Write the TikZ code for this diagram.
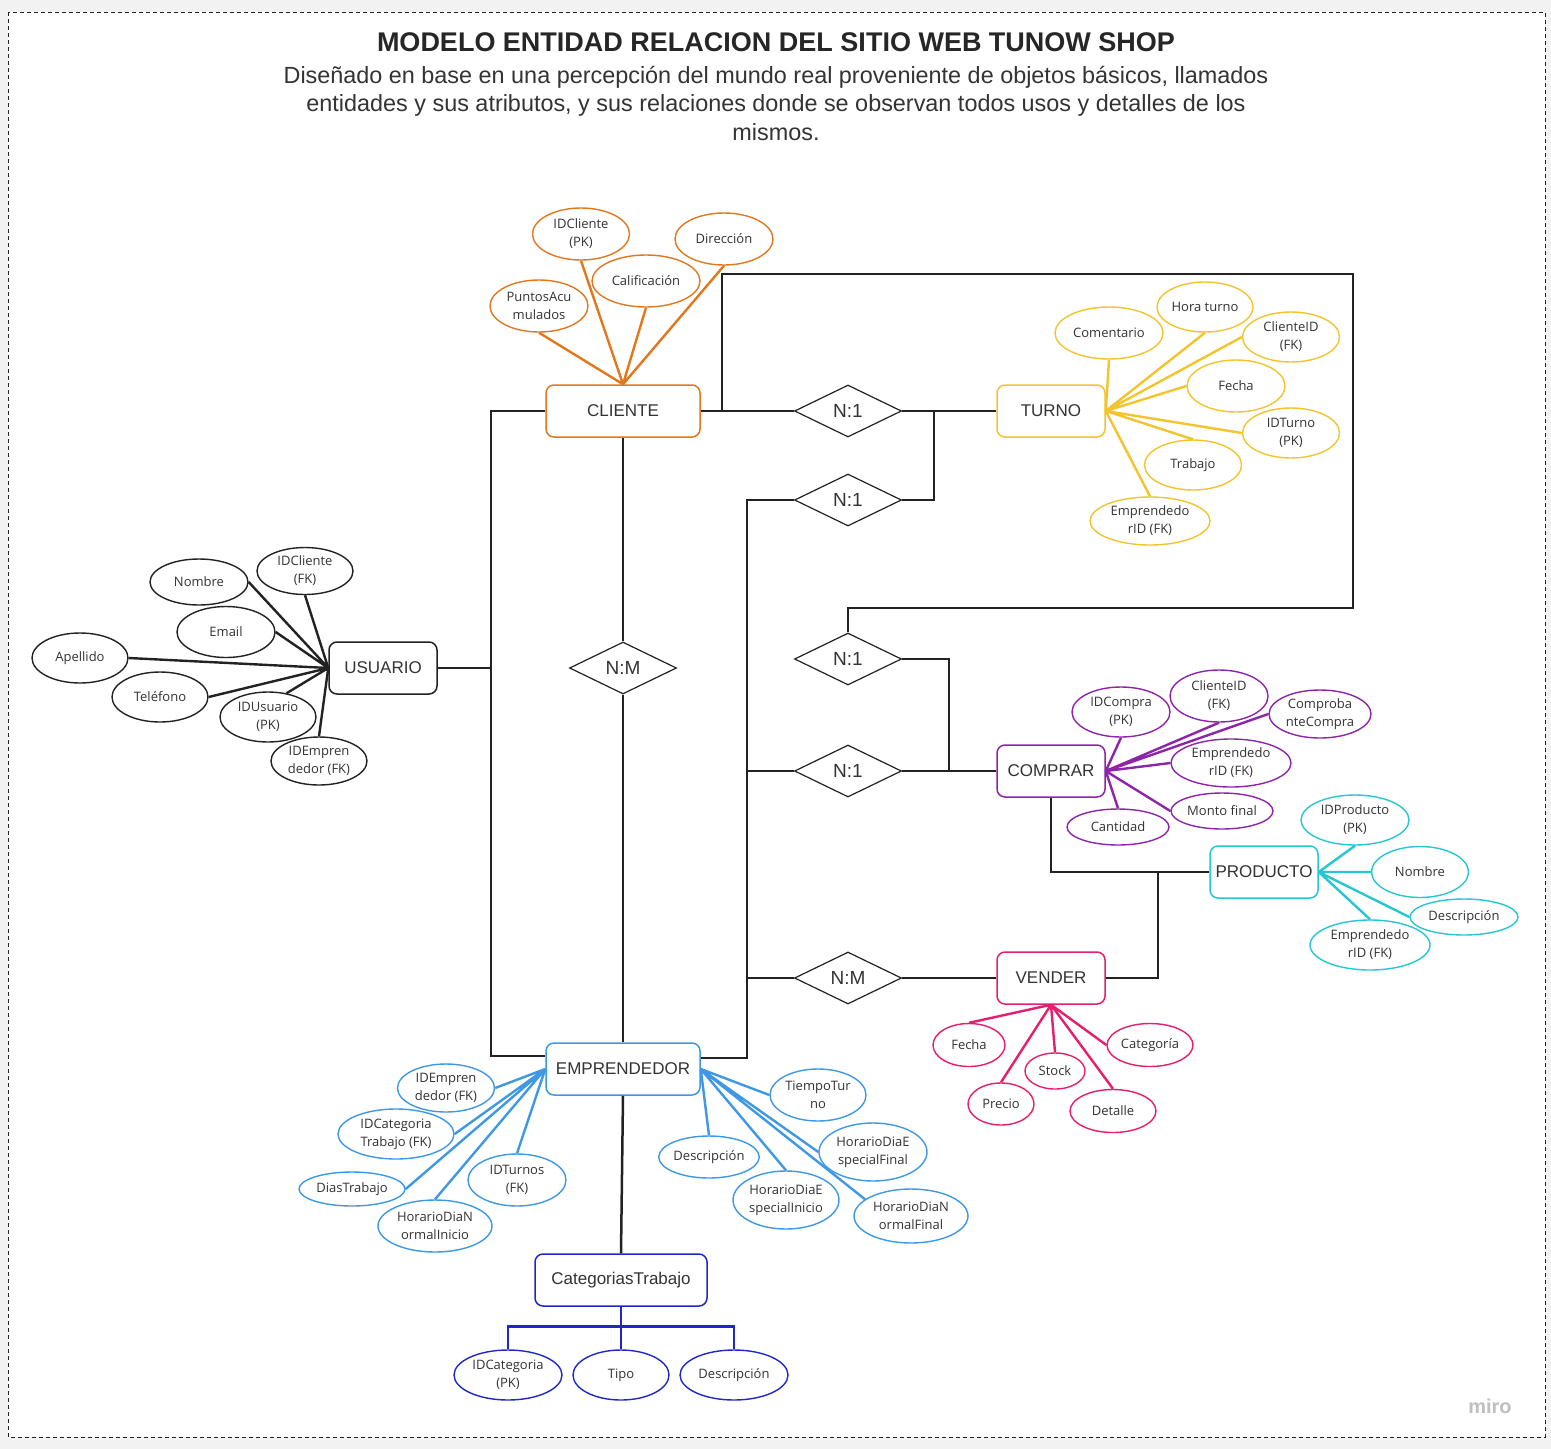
\documentclass[tikz,border=0pt]{standalone}
\usepackage{fontspec}
\setmainfont{Liberation Sans}
\newfontfamily\attrfamily{Open Sans}
\usepackage{tikz}
\usetikzlibrary{shapes.geometric}
\definecolor{BgGray}{RGB}{242,242,242}
\definecolor{InkGray}{RGB}{51,51,51}
\definecolor{LineBlack}{RGB}{34,34,34}
\definecolor{CliOrange}{RGB}{226,120,30}
\definecolor{TurYellow}{RGB}{242,196,46}
\definecolor{CmpPurple}{RGB}{142,36,170}
\definecolor{ProCyan}{RGB}{38,198,210}
\definecolor{VenPink}{RGB}{230,30,110}
\definecolor{EmpBlue}{RGB}{62,152,228}
\definecolor{CatBlue}{RGB}{30,40,200}

\begin{document}
\begin{tikzpicture}[x=1pt, y=-1pt,
    entity/.style={draw=#1, rounded corners=8pt, fill=white, text=InkGray, line width=1.5pt, minimum width=108pt, minimum height=52pt, inner sep=0pt, font=\fontsize{17}{20}\selectfont},
    rel/.style={diamond, draw=LineBlack, fill=white, aspect=2, inner sep=0pt, minimum width=107pt, minimum height=52pt, line width=1.2pt, text=InkGray, font=\fontsize{19}{20}\selectfont},
    attr/.style={ellipse, draw=#1, fill=white, text=InkGray, line width=1.4pt, inner sep=0pt, align=center, font=\attrfamily\fontsize{13}{18}\selectfont},
    sz/.style 2 args={minimum width=#1pt, minimum height=#2pt},
    conn/.style={draw=LineBlack, line width=2.5pt},
    spoke/.style={draw=#1, line width=2.4pt}
]
    % page and frame
    \fill[BgGray] (0,0) rectangle (1551,1449);
    \draw[fill=white, draw=LineBlack, line width=1pt, dash pattern=on 4pt off 3pt] (8,12) rectangle (1545,1437);
    \node[text=black!85, font=\bfseries\fontsize{27}{30}\selectfont] (title) at (776,42) {MODELO ENTIDAD RELACION DEL SITIO WEB TUNOW SHOP};
    \node[text=InkGray, align=center, font=\fontsize{23.4}{28.5}\selectfont] (subtitle) at (776,103)
        {Diseñado en base en una percepción del mundo real proveniente de objetos básicos, llamados\\
         entidades y sus atributos, y sus relaciones donde se observan todos usos y detalles de los\\
         mismos.};
    \node[text=black!25, font=\bfseries\fontsize{20}{20}\selectfont] (miro) at (1490,1406) {miro};

    % entities
    \node[entity=CliOrange, minimum width=154pt] (cli) at (623,411) {CLIENTE};
    \node[entity=TurYellow] (tur) at (1051,411) {TURNO};
    \node[entity=LineBlack] (usu) at (383,668) {USUARIO};
    \node[entity=CmpPurple] (cmp) at (1051,771) {COMPRAR};
    \node[entity=ProCyan] (pro) at (1264,872) {PRODUCTO};
    \node[entity=VenPink] (ven) at (1051,978) {VENDER};
    \node[entity=EmpBlue, minimum width=154pt] (emp) at (623,1069) {EMPRENDEDOR};
    \node[entity=CatBlue, minimum width=172pt] (cat) at (621,1280) {CategoriasTrabajo};

    % relations
    \node[rel] (r1) at (848,411) {N:1};
    \node[rel] (r2) at (848,500) {N:1};
    \node[rel] (r0) at (623,668) {N:M};
    \node[rel] (r3) at (848,659) {N:1};
    \node[rel] (r4) at (848,771) {N:1};
    \node[rel] (r5) at (848,978) {N:M};

    % connectors
    \draw[conn] (cli.east) -- (r1.west) (r1.east) -- (tur.west);
    \draw[conn] (r3.north) |- (1353,608) |- (722,274) |- (cli.east);
    \draw[conn] (r2.east) -| (934,411);
    \draw[conn] (r2.west) -| (747,1058) -- ([yshift=11pt]emp.east);
    \draw[conn] (r4.west) -- ++(-48,0) (r5.west) -- ++(-48,0);
    \draw[conn] (r4.east) -- (cmp.west) (r3.east) -| (949,771);
    \draw[conn] (r5.east) -- (ven.west) (ven.east) -| (1158,872);
    \draw[conn] (cmp.south) |- (pro.west);
    \draw[conn] (cli.west) -| (491,668) |- ([yshift=13pt]emp.west);
    \draw[conn] (usu.east) -- (491,668);
    \draw[conn] (cli.south) -- (r0.north) (r0.south) -- (emp.north);
    \draw[conn] (emp.south) -- (cat.north);

    % CLIENTE attributes
    \node[attr=CliOrange, sz={97}{52}] (cid) at (581,234) {IDCliente\\(PK)};
    \node[attr=CliOrange, sz={98}{52}] (dir) at (724,239) {Dirección};
    \node[attr=CliOrange, sz={108}{52}] (cal) at (646,281) {Calificación};
    \node[attr=CliOrange, sz={98}{52}] (pts) at (539,306) {PuntosAcu\\mulados};
    \draw[spoke=CliOrange] (cli.north) -- (cid.south) (cli.north) -- (cal.south)
        (cli.north) -- (dir.south) (cli.north) -- (pts.south);

    % TURNO attributes
    \node[attr=TurYellow, sz={108}{52}] (com) at (1109,333) {Comentario};
    \node[attr=TurYellow, sz={96}{50}] (hor) at (1205,307) {Hora turno};
    \node[attr=TurYellow, sz={97}{50}] (tci) at (1291,337) {ClienteID\\(FK)};
    \node[attr=TurYellow, sz={98}{52}] (tfe) at (1236,386) {Fecha};
    \node[attr=TurYellow, sz={97}{50}] (tid) at (1291,433) {IDTurno\\(PK)};
    \node[attr=TurYellow, sz={97}{50}] (ttr) at (1193,465) {Trabajo};
    \node[attr=TurYellow, sz={120}{48}] (tem) at (1150,521) {Emprendedo\\rID (FK)};
    \draw[spoke=TurYellow] (tur.east) -- (com.south) (tur.east) -- (hor.south)
        (tur.east) -- (tci.west) (tur.east) -- (tfe.west) (tur.east) -- (tid.west)
        (tur.east) -- (ttr.north) (tur.east) -- (tem.north);

    % USUARIO attributes
    \node[attr=LineBlack, sz={98}{46}] (uno) at (199,582) {Nombre};
    \node[attr=LineBlack, sz={96}{47}] (uci) at (305,571) {IDCliente\\(FK)};
    \node[attr=LineBlack, sz={98}{51}] (uem) at (226,632) {Email};
    \node[attr=LineBlack, sz={96}{50}] (uap) at (80,658) {Apellido};
    \node[attr=LineBlack, sz={96}{50}] (ute) at (160,697) {Teléfono};
    \node[attr=LineBlack, sz={96}{50}] (uid) at (268,717) {IDUsuario\\(PK)};
    \node[attr=LineBlack, sz={96}{48}] (uie) at (319,761) {IDEmpren\\dedor (FK)};
    \draw[spoke=LineBlack] (usu.west) -- (uno.east) (usu.west) -- (uci.south)
        (usu.west) -- (uem.east) (usu.west) -- (uap.east) (usu.west) -- (ute.east)
        (usu.west) -- (uid.52) (usu.west) -- (uie.north);

    % COMPRAR attributes
    \node[attr=CmpPurple, sz={98}{50}] (cpk) at (1121,712) {IDCompra\\(PK)};
    \node[attr=CmpPurple, sz={98}{52}] (ccl) at (1219,696) {ClienteID\\(FK)};
    \node[attr=CmpPurple, sz={102}{48}] (cco) at (1320,714) {Comproba\\nteCompra};
    \node[attr=CmpPurple, sz={120}{48}] (cem) at (1231,763) {Emprendedo\\rID (FK)};
    \node[attr=CmpPurple, sz={102}{36}] (cmo) at (1222,811) {Monto final};
    \node[attr=CmpPurple, sz={102}{36}] (cca) at (1118,827) {Cantidad};
    \draw[spoke=CmpPurple] (cmp.east) -- (cpk.south) (cmp.east) -- (ccl.south)
        (cmp.east) -- (cco.west) (cmp.east) -- (cem.west) (cmp.east) -- (cmo.west)
        (cmp.east) -- (cca.north);

    % PRODUCTO attributes
    \node[attr=ProCyan, sz={108}{50}] (pid) at (1355,820) {IDProducto\\(PK)};
    \node[attr=ProCyan, sz={97}{51}] (pno) at (1420,872) {Nombre};
    \node[attr=ProCyan, sz={108}{36}] (pde) at (1464,917) {Descripción};
    \node[attr=ProCyan, sz={120}{50}] (pem) at (1370,945) {Emprendedo\\rID (FK)};
    \draw[spoke=ProCyan] (pro.east) -- (pid.south) (pro.east) -- (pno.west)
        (pro.east) -- (pde.west) (pro.east) -- (pem.north);

    % VENDER attributes
    \node[attr=VenPink, sz={72}{43}] (vfe) at (969,1045) {Fecha};
    \node[attr=VenPink, sz={86}{43}] (vca) at (1150,1045) {Categoría};
    \node[attr=VenPink, sz={60}{36}] (vst) at (1055,1071) {Stock};
    \node[attr=VenPink, sz={66}{42}] (vpr) at (1001,1104) {Precio};
    \node[attr=VenPink, sz={86}{43}] (vde) at (1113,1111) {Detalle};
    \draw[spoke=VenPink] (ven.south) -- (vfe.north) (ven.south) -- (vca.west)
        (ven.south) -- (vst.north) (ven.south) -- (vpr.north) (ven.south) -- (vde.north);

    % EMPRENDEDOR attributes
    \node[attr=EmpBlue, sz={97}{48}] (eie) at (446,1088) {IDEmpren\\dedor (FK)};
    \node[attr=EmpBlue, sz={116}{50}] (eic) at (396,1134) {IDCategoria\\Trabajo (FK)};
    \node[attr=EmpBlue, sz={106}{34}] (edt) at (352,1189) {DiasTrabajo};
    \node[attr=EmpBlue, sz={114}{52}] (ehi) at (435,1226) {HorarioDiaN\\ormalInicio};
    \node[attr=EmpBlue, sz={98}{52}] (eit) at (517,1180) {IDTurnos\\(FK)};
    \node[attr=EmpBlue, sz={96}{52}] (ett) at (818,1095) {TiempoTur\\no};
    \node[attr=EmpBlue, sz={100}{42}] (ede) at (709,1157) {Descripción};
    \node[attr=EmpBlue, sz={108}{58}] (ehf) at (873,1152) {HorarioDiaE\\specialFinal};
    \node[attr=EmpBlue, sz={106}{58}] (ehs) at (786,1200) {HorarioDiaE\\specialInicio};
    \node[attr=EmpBlue, sz={114}{54}] (ehn) at (911,1216) {HorarioDiaN\\ormalFinal};
    \draw[spoke=EmpBlue] (emp.west) -- (eie.east) (emp.west) -- (eic.east)
        (emp.west) -- (edt.east) (emp.west) -- (ehi.north) (emp.west) -- (eit.north);
    \draw[spoke=EmpBlue] (emp.east) -- (ett.west) (emp.east) -- (ede.north)
        (emp.east) -- (ehf.west) (emp.east) -- (ehs.north) (emp.east) -- (ehn.160);

    % CategoriasTrabajo attributes
    \node[attr=CatBlue, sz={108}{50}] (kid) at (508,1375) {IDCategoria\\(PK)};
    \node[attr=CatBlue, sz={96}{50}] (kti) at (621,1375) {Tipo};
    \node[attr=CatBlue, sz={108}{50}] (kde) at (734,1375) {Descripción};
    \draw[spoke=CatBlue] (cat.south) -- (kti.north);
    \draw[spoke=CatBlue] (kid.north) -- ++(0,-23) -| (kde.north);
\end{tikzpicture}
\end{document}
